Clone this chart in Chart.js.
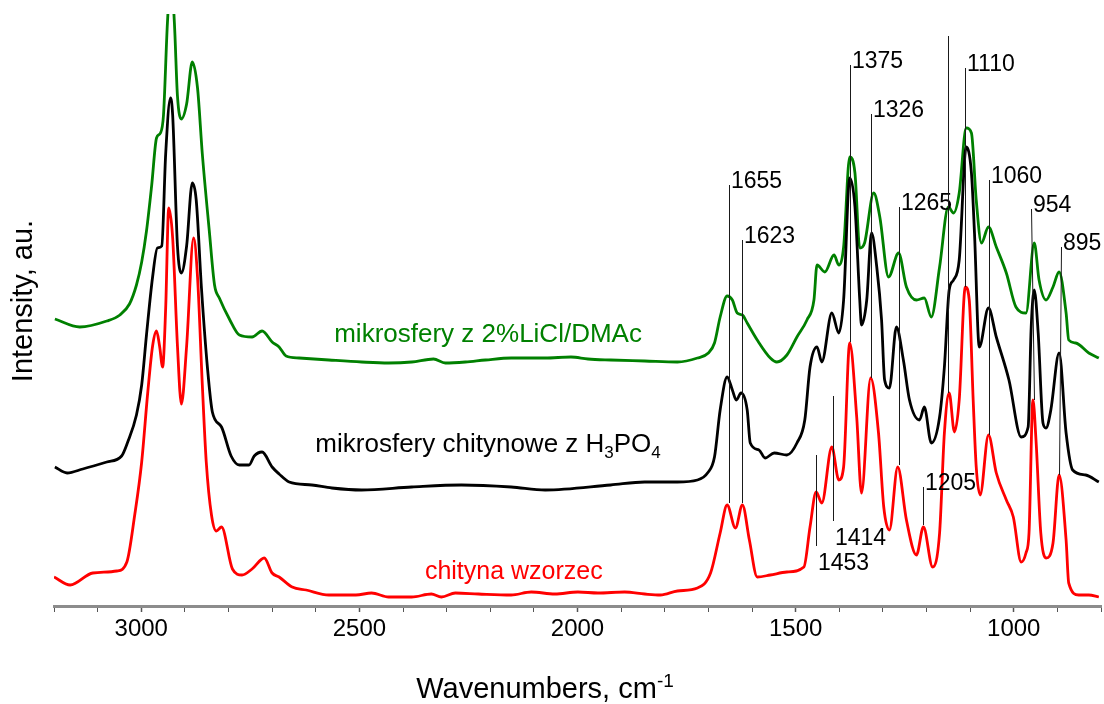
<!DOCTYPE html>
<html>
<head>
<meta charset="utf-8">
<script src="https://cdn.jsdelivr.net/npm/chart.js@4.4.0/dist/chart.umd.min.js"></script>
<style>
  html, body { margin: 0; padding: 0; background: #fff; }
</style>
</head>
<body>
<canvas id="ftir" width="1104" height="704"></canvas>
<script>
// wavenumbers (cm-1) and intensities (a.u., offset traces)
const wnGreen = [3198, 3141, 3079, 3049, 3027, 3011, 2999, 2988, 2976, 2965, 2956, 2949, 2940, 2932, 2924, 2917, 2908, 2896, 2883, 2871, 2860, 2844, 2832, 2821, 2798, 2775, 2746, 2723, 2700, 2684, 2668, 2638, 2570, 2495, 2433, 2380, 2330, 2303, 2257, 2211, 2152, 2074, 2015, 1976, 1924, 1846, 1771, 1725, 1700, 1686, 1673, 1657, 1645, 1634, 1622, 1611, 1588, 1558, 1543, 1520, 1497, 1474, 1458, 1451, 1433, 1412, 1401, 1390, 1376, 1364, 1353, 1342, 1321, 1307, 1287, 1264, 1246, 1223, 1205, 1189, 1170, 1150, 1138, 1125, 1109, 1097, 1086, 1074, 1058, 1040, 1017, 995, 972, 953, 942, 926, 910, 896, 880, 874, 858, 828, 805];
const intGreen = [28.7, 27.9, 28.5, 29.1, 30.2, 32.1, 34.4, 37.5, 42.1, 46.8, 47.3, 49.1, 58.3, 63.0, 58.3, 51.0, 48.7, 50.2, 54.4, 51.8, 45.2, 37.5, 32.1, 30.8, 28.7, 27.1, 26.9, 27.5, 26.4, 25.9, 25.0, 24.8, 24.6, 24.4, 24.3, 24.4, 24.7, 24.3, 24.4, 24.6, 24.8, 24.8, 24.9, 24.7, 24.6, 24.5, 24.4, 24.8, 25.3, 26.3, 28.9, 31.0, 30.6, 29.3, 29.1, 28.3, 26.6, 24.8, 24.4, 25.1, 26.9, 28.6, 30.6, 34.1, 33.4, 35.1, 34.1, 35.9, 44.9, 43.3, 35.8, 36.3, 41.3, 38.9, 32.9, 35.3, 31.9, 30.6, 30.8, 28.9, 33.9, 39.9, 39.3, 41.3, 47.8, 47.3, 40.6, 36.3, 37.9, 35.9, 33.3, 29.9, 29.3, 36.3, 32.6, 30.6, 31.9, 33.4, 29.3, 26.6, 26.3, 25.3, 24.8];

const wnBlack = [3198, 3170, 3134, 3079, 3045, 3031, 3011, 2999, 2988, 2974, 2963, 2953, 2944, 2933, 2928, 2917, 2908, 2896, 2883, 2874, 2862, 2848, 2837, 2816, 2794, 2775, 2753, 2741, 2723, 2700, 2684, 2661, 2609, 2563, 2495, 2380, 2266, 2152, 2074, 1924, 1846, 1771, 1725, 1702, 1686, 1673, 1657, 1645, 1636, 1625, 1611, 1604, 1584, 1570, 1549, 1520, 1497, 1479, 1467, 1451, 1440, 1417, 1401, 1390, 1376, 1364, 1353, 1349, 1337, 1326, 1314, 1303, 1296, 1285, 1269, 1253, 1239, 1216, 1205, 1189, 1170, 1159, 1148, 1138, 1125, 1109, 1097, 1090, 1079, 1058, 1040, 1011, 983, 967, 960, 953, 944, 933, 926, 915, 896, 880, 865, 835, 805];
const intBlack = [13.9, 13.3, 13.7, 14.4, 15.0, 16.4, 19.1, 22.1, 27.1, 32.9, 35.8, 36.0, 45.2, 50.8, 49.1, 36.0, 33.3, 36.0, 42.3, 40.6, 31.8, 23.7, 19.4, 17.9, 15.0, 14.1, 14.1, 15.0, 15.4, 13.9, 13.2, 12.4, 12.1, 11.8, 11.6, 11.9, 12.1, 11.9, 11.6, 12.1, 12.4, 12.4, 12.6, 13.3, 14.9, 19.6, 22.9, 21.6, 20.6, 21.3, 19.6, 16.3, 15.6, 14.8, 15.3, 15.1, 16.3, 18.6, 23.9, 25.9, 24.4, 29.3, 27.3, 30.6, 42.8, 39.9, 30.6, 28.1, 30.6, 37.3, 33.9, 28.6, 22.6, 21.8, 27.9, 24.6, 20.6, 18.6, 19.9, 16.3, 18.9, 23.9, 31.6, 32.6, 34.6, 45.9, 43.3, 37.3, 25.9, 29.8, 26.9, 22.6, 16.9, 17.9, 27.9, 31.6, 27.3, 18.3, 17.8, 19.6, 25.3, 17.3, 13.6, 13.1, 12.4];

const wnRed = [3200, 3163, 3111, 3056, 3033, 3015, 2999, 2985, 2974, 2965, 2958, 2951, 2944, 2937, 2928, 2917, 2908, 2896, 2880, 2871, 2860, 2851, 2839, 2828, 2816, 2791, 2769, 2746, 2718, 2700, 2684, 2654, 2622, 2570, 2508, 2472, 2433, 2380, 2335, 2312, 2280, 2227, 2152, 2106, 2052, 1999, 1953, 1892, 1846, 1810, 1771, 1725, 1695, 1673, 1657, 1638, 1622, 1606, 1588, 1558, 1520, 1481, 1467, 1453, 1440, 1417, 1401, 1390, 1376, 1360, 1349, 1328, 1310, 1298, 1285, 1266, 1246, 1223, 1207, 1186, 1170, 1159, 1148, 1136, 1125, 1111, 1102, 1093, 1086, 1077, 1058, 1040, 1017, 1001, 983, 972, 965, 956, 949, 938, 926, 910, 896, 880, 874, 851, 828, 805];
const intRed = [2.9, 2.1, 3.3, 3.5, 4.4, 9.1, 14.4, 21.4, 26.0, 27.5, 26.0, 23.9, 29.8, 39.8, 36.8, 26.0, 20.2, 26.0, 36.8, 32.9, 22.1, 14.4, 9.1, 7.5, 7.9, 3.7, 3.1, 3.7, 4.8, 3.3, 2.9, 1.9, 1.6, 1.1, 1.1, 1.3, 0.9, 0.9, 1.2, 0.9, 1.3, 1.2, 1.1, 1.4, 1.2, 1.4, 1.3, 1.4, 1.2, 1.1, 1.5, 1.8, 3.3, 7.3, 10.1, 7.8, 10.1, 6.6, 2.9, 3.1, 3.4, 3.9, 7.9, 11.4, 10.3, 15.9, 12.6, 13.9, 26.3, 18.9, 11.3, 22.8, 17.3, 9.9, 7.6, 13.9, 8.6, 5.1, 7.9, 3.9, 7.3, 17.3, 21.3, 17.4, 20.6, 31.9, 30.6, 20.6, 13.9, 11.1, 17.1, 13.3, 10.6, 8.9, 4.4, 5.3, 7.3, 20.6, 16.6, 7.3, 4.8, 6.3, 13.1, 6.6, 2.3, 1.1, 1.1, 0.9];

const seriesNames = ['chityna wzorzec', 'mikrosfery chitynowe z H3PO4', 'mikrosfery z 2%LiCl/DMAc'];
const seriesColors = ['#ff0000', '#000000', '#008000'];
const labelWn = [2146, 2205, 2205];
const labelBase = [2.7, 15.4, 26.4];

// peak markers: label, wavenumber at top / bottom of the line, intensity at top / bottom
const peakText = ['1655', '1623', '1375', '1326', '1265', '', '1110', '1060', '954', '895', '1453', '1414', '1205'];
const peakWnTop = [1653, 1622, 1376, 1327, 1262, 1150, 1112, 1057, 960, 892, 1453, 1415, 1207];
const peakWnBottom = [1653, 1622, 1376, 1327, 1262, 1150, 1112, 1057, 953, 896, 1453, 1415, 1207];
const peakTop = [42.1, 36.6, 54.1, 49.2, 39.9, 57.0, 53.8, 42.6, 39.7, 35.9, 15.1, 21.0, 11.9];
const peakBottom = [10.3, 10.3, 26.4, 22.8, 14.1, 21.3, 31.9, 17.1, 20.6, 13.1, 6.0, 8.5, 8.1];
const peakSide = ['top', 'top', 'top', 'top', 'top', 'top', 'top', 'top', 'top', 'top', 'bottom', 'bottom', 'top'];

const FONT = '"Liberation Sans", Arial, sans-serif';

// draw text made of [text, shift] parts; shift 1 = subscript, -1 = superscript
function drawRich(ctx, parts, cx, baseY, size) {
  const small = Math.round(size * 0.65);
  let total = 0;
  parts.forEach(([t, s]) => {
    ctx.font = (s ? small : size) + 'px ' + FONT;
    total += ctx.measureText(t).width;
  });
  let px = cx - total / 2;
  parts.forEach(([t, s]) => {
    ctx.font = (s ? small : size) + 'px ' + FONT;
    const dy = s === 1 ? size * 0.22 : s === -1 ? -size * 0.38 : 0;
    ctx.fillText(t, px, baseY + dy);
    px += ctx.measureText(t).width;
  });
}

const peakLabels = {
  id: 'peakLabels',
  afterDatasetsDraw(chart) {
    const { ctx, scales: { x, y } } = chart;
    ctx.save();
    ctx.textAlign = 'left';
    ctx.textBaseline = 'alphabetic';

    // peak marker lines + numbers
    ctx.strokeStyle = '#1a1a1a';
    ctx.lineWidth = 1;
    ctx.fillStyle = '#000';
    ctx.font = '23px ' + FONT;
    peakText.forEach((t, i) => {
      const x1 = Math.round(x.getPixelForValue(peakWnTop[i])) + 0.5;
      const x2 = Math.round(x.getPixelForValue(peakWnBottom[i])) + 0.5;
      const y1 = y.getPixelForValue(peakTop[i]);
      const y2 = y.getPixelForValue(peakBottom[i]);
      ctx.beginPath();
      ctx.moveTo(x1, y1);
      ctx.lineTo(x2, y2);
      ctx.stroke();
      if (!t) return;
      if (peakSide[i] === 'top') ctx.fillText(t, x1 + 1.5, y1 + 3);
      else ctx.fillText(t, x2 + 1.5, y2 + 24);
    });

    // series names
    seriesNames.forEach((name, i) => {
      ctx.fillStyle = seriesColors[i];
      const cx = x.getPixelForValue(labelWn[i]);
      const by = y.getPixelForValue(labelBase[i]);
      const m = name.match(/^(.*H)3PO4$/);
      const parts = m ? [[m[1], 0], ['3', 1], ['PO', 0], ['4', 1]] : [[name, 0]];
      drawRich(ctx, parts, cx, by, i === 0 ? 25 : 26);
    });

    // axis titles
    ctx.fillStyle = '#000';
    drawRich(ctx, [['Wavenumbers, cm', 0], ['-1', -1]], 545, 698, 29);
    ctx.translate(24, 301);
    ctx.rotate(-Math.PI / 2);
    ctx.textAlign = 'center';
    ctx.textBaseline = 'middle';
    ctx.font = '29px ' + FONT;
    ctx.fillText('Intensity, au.', 0, 0);
    ctx.restore();
  }
};

function series(wn, vals) {
  return wn.map((w, i) => ({ x: w, y: vals[i] }));
}

const ctx = document.getElementById('ftir').getContext('2d');
new Chart(ctx, {
  type: 'line',
  data: {
    datasets: [
      { label: seriesNames[0], data: series(wnRed, intRed), borderColor: seriesColors[0] },
      { label: seriesNames[1], data: series(wnBlack, intBlack), borderColor: seriesColors[1] },
      { label: seriesNames[2], data: series(wnGreen, intGreen), borderColor: seriesColors[2] },
    ],
  },
  options: {
    responsive: false,
    animation: false,
    parsing: false,
    layout: { padding: { top: 14, left: 0, right: 0, bottom: 0 } },
    elements: {
      line: { borderWidth: 2.8, cubicInterpolationMode: 'monotone', fill: false },
      point: { radius: 0, hoverRadius: 0 },
    },
    plugins: {
      legend: { display: false },
      tooltip: { enabled: false },
    },
    scales: {
      x: {
        type: 'linear',
        reverse: true,
        min: 800,
        max: 3200,
        afterFit: (scale) => { scale.height = 98; },
        border: { display: true, color: '#8c8c8c', width: 3 },
        grid: {
          drawOnChartArea: false,
          drawTicks: true,
          tickLength: 6,
          tickColor: '#555',
          tickWidth: (c) => (c.tick && c.tick.value % 500 === 0 ? 1.5 : 1),
        },
        ticks: {
          stepSize: 100,
          autoSkip: false,
          maxRotation: 0,
          padding: 3,
          color: '#000',
          font: { family: FONT, size: 24 },
          callback: (v) => (v % 500 === 0 ? String(v) : ''),
        },
        title: { display: false },
      },
      y: {
        min: 0,
        max: 59.2,
        afterFit: (scale) => { scale.width = 54; },
        border: { display: false },
        grid: { display: false },
        ticks: { display: false },
        title: { display: false },
      },
    },
  },
  plugins: [peakLabels],
});
</script>
</body>
</html>
